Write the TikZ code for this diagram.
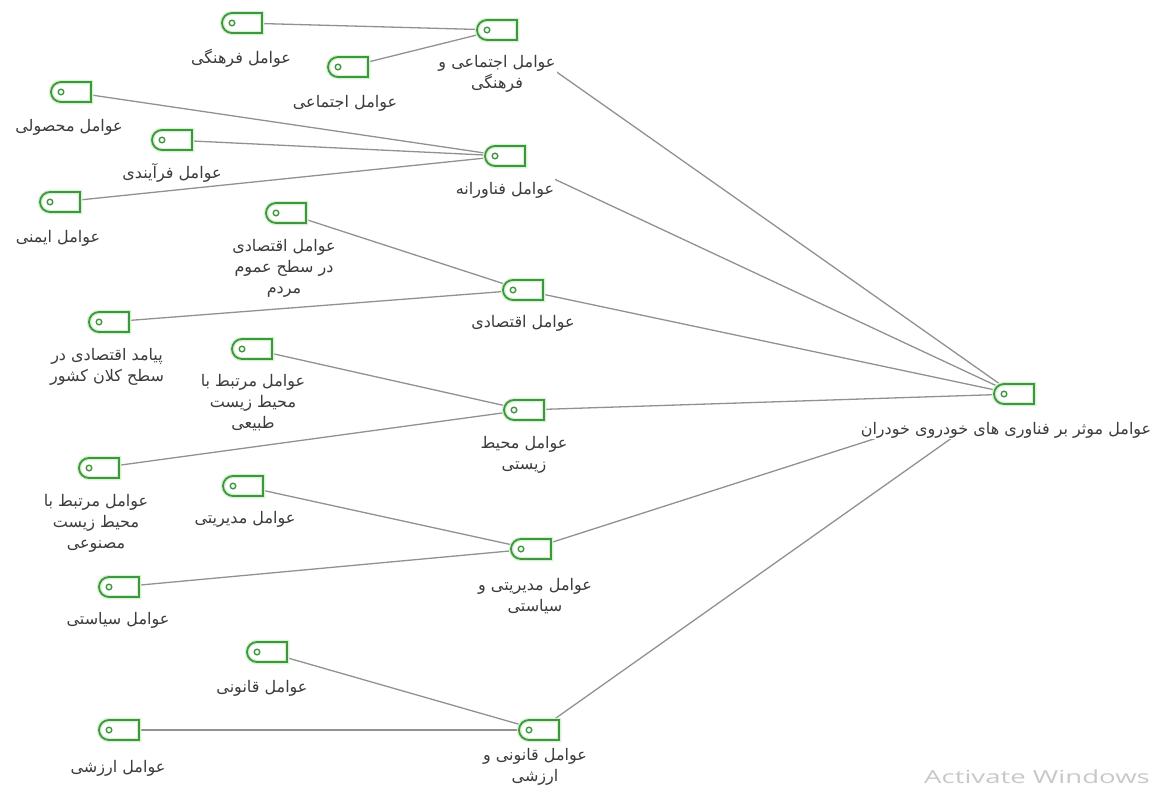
\documentclass[tikz,border=0pt]{standalone}
\usepackage{fontspec}
\usetikzlibrary{shapes.misc}
\TeXXeTstate=1
\newfontfamily\arabicfont[Script=Arabic]{DejaVu Sans}
\setsansfont{Open Sans}
\newcommand{\fatxt}[1]{\beginR #1\endR}
\definecolor{codegreen}{RGB}{62,150,62}
\definecolor{glow}{RGB}{215,242,210}
\definecolor{linegray}{RGB}{145,145,145}
\definecolor{labgray}{RGB}{60,60,60}
\definecolor{wmgray}{RGB}{200,200,200}
\pgfdeclarelayer{bg}
\pgfdeclarelayer{cover}
\pgfsetlayers{bg,cover,main}
\begin{document}
\begin{tikzpicture}[x=1pt,y=-1pt,
  codeicon/.style={rounded rectangle, rounded rectangle right arc=none,
    draw=codegreen, line width=1.8pt, minimum width=40pt, minimum height=20pt,
    inner sep=0pt, preaction={draw=glow,line width=4.5pt},
    path picture={\draw[codegreen,line width=1.4pt] ([xshift=10pt]path picture bounding box.west) circle (2.8pt);}},
  codelabel/.style={font=\arabicfont\fontsize{16}{21}\selectfont, align=center,
    fill=white, inner sep=1pt, text=labgray},
  conn/.style={draw=linegray, line width=1.3pt}]
\useasboundingbox (0,0) rectangle (1166,787);

% icons
\node[codeicon] (cult)     at (242,23)  {};
\node[codeicon] (soc)      at (348,67)  {};
\node[codeicon] (socCult)  at (497,30)  {};
\node[codeicon] (prod)     at (71,92)   {};
\node[codeicon] (proc)     at (172,140) {};
\node[codeicon] (safe)     at (60,202)  {};
\node[codeicon] (tech)     at (505,156) {};
\node[codeicon] (econPub)  at (286,213) {};
\node[codeicon] (econ)     at (523,290) {};
\node[codeicon] (econMac)  at (109,322) {};
\node[codeicon] (natEnv)   at (252,349) {};
\node[codeicon] (env)      at (524,410) {};
\node[codeicon] (artEnv)   at (99,468)  {};
\node[codeicon] (mgmt)     at (243,486) {};
\node[codeicon] (mgmtPol)  at (531,549) {};
\node[codeicon] (pol)      at (119,587) {};
\node[codeicon] (legal)    at (267,652) {};
\node[codeicon] (value)    at (119,730) {};
\node[codeicon] (legalVal) at (539,730) {};
\node[codeicon] (main)     at (1014,394) {};

% connectors (behind labels)
\begin{pgfonlayer}{bg}
\draw[conn] (cult) -- (socCult);
\draw[conn] (soc) -- (socCult);
\draw[conn] (prod) -- (tech);
\draw[conn] (proc) -- (tech);
\draw[conn] (safe) -- (tech);
\draw[conn] (econPub) -- (econ);
\draw[conn] (econMac) -- (econ);
\draw[conn] (natEnv) -- (env);
\draw[conn] (artEnv) -- (env);
\draw[conn] (mgmt) -- (mgmtPol);
\draw[conn] (pol) -- (mgmtPol);
\draw[conn] (legal) -- (legalVal);
\draw[conn] (value) -- (legalVal);
\draw[conn] (socCult) -- (main);
\draw[conn] (tech) -- (main);
\draw[conn] (econ) -- (main);
\draw[conn] (env) -- (main);
\draw[conn] (mgmtPol) -- (main);
\draw[conn] (legalVal) -- (main);
\end{pgfonlayer}

% labels
\node[codelabel] (cultL)     at (241,58)  {\fatxt{عوامل فرهنگی}};
\node[codelabel] (socL)      at (345,103) {\fatxt{عوامل اجتماعی}};
\node[codelabel] (socCultL)  at (497,74)  {\fatxt{عوامل اجتماعی و}\\\fatxt{فرهنگی}};
\node[codelabel] (prodL)     at (69,127)  {\fatxt{عوامل محصولی}};
\node[codelabel] (procL)     at (172,173) {\fatxt{عوامل فرآیندی}};
\node[codelabel] (safeL)     at (58,238)  {\fatxt{عوامل ایمنی}};
\node[codelabel] (techL)     at (505,190) {\fatxt{عوامل فناورانه}};
\node[codelabel] (econPubL)  at (284,268) {\fatxt{عوامل اقتصادی}\\\fatxt{در سطح عموم}\\\fatxt{مردم}};
\node[codelabel] (econL)     at (523,323) {\fatxt{عوامل اقتصادی}};
\node[codelabel] (econMacL)  at (107,367) {\fatxt{پیامد اقتصادی در}\\\fatxt{سطح کلان کشور}};
\node[codelabel] (natEnvL)   at (253,403) {\fatxt{عوامل مرتبط با}\\\fatxt{محیط زیست}\\\fatxt{طبیعی}};
\node[codelabel] (envL)      at (524,455) {\fatxt{عوامل محیط}\\\fatxt{زیستی}};
\node[codelabel] (artEnvL)   at (96,523)  {\fatxt{عوامل مرتبط با}\\\fatxt{محیط زیست}\\\fatxt{مصنوعی}};
\node[codelabel] (mgmtL)     at (245,519) {\fatxt{عوامل مدیریتی}};
\node[codelabel] (mgmtPolL)  at (535,596) {\fatxt{عوامل مدیریتی و}\\\fatxt{سیاستی}};
\node[codelabel] (polL)      at (118,620) {\fatxt{عوامل سیاستی}};
\node[codelabel] (legalL)    at (262,688) {\fatxt{عوامل قانونی}};
\node[codelabel] (valueL)    at (118,768) {\fatxt{عوامل ارزشی}};
\node[codelabel] (legalValL) at (535,767) {\fatxt{عوامل قانونی و}\\\fatxt{ارزشی}};
\node[codelabel] (mainL)     at (1006,430) {\fatxt{عوامل موثر بر فناوری های خودروی خودران}};

% white gap between icon and label, where a connector leaves through the label block
\begin{pgfonlayer}{cover}
\fill[white] ([yshift=3pt]socCult.south) rectangle (socCultL.north east);
\fill[white] ([yshift=3pt]tech.south) rectangle (techL.north east);
\fill[white] ([yshift=5pt]main.south -| mainL.west) rectangle (mainL.north east);
\end{pgfonlayer}

% watermark
\node[text=wmgray, font=\sffamily\fontsize{18}{20}\selectfont, inner sep=0pt] (wm) at (1037,777) {\scalebox{1.53}[1]{Activate Windows}};
\end{tikzpicture}
\end{document}
